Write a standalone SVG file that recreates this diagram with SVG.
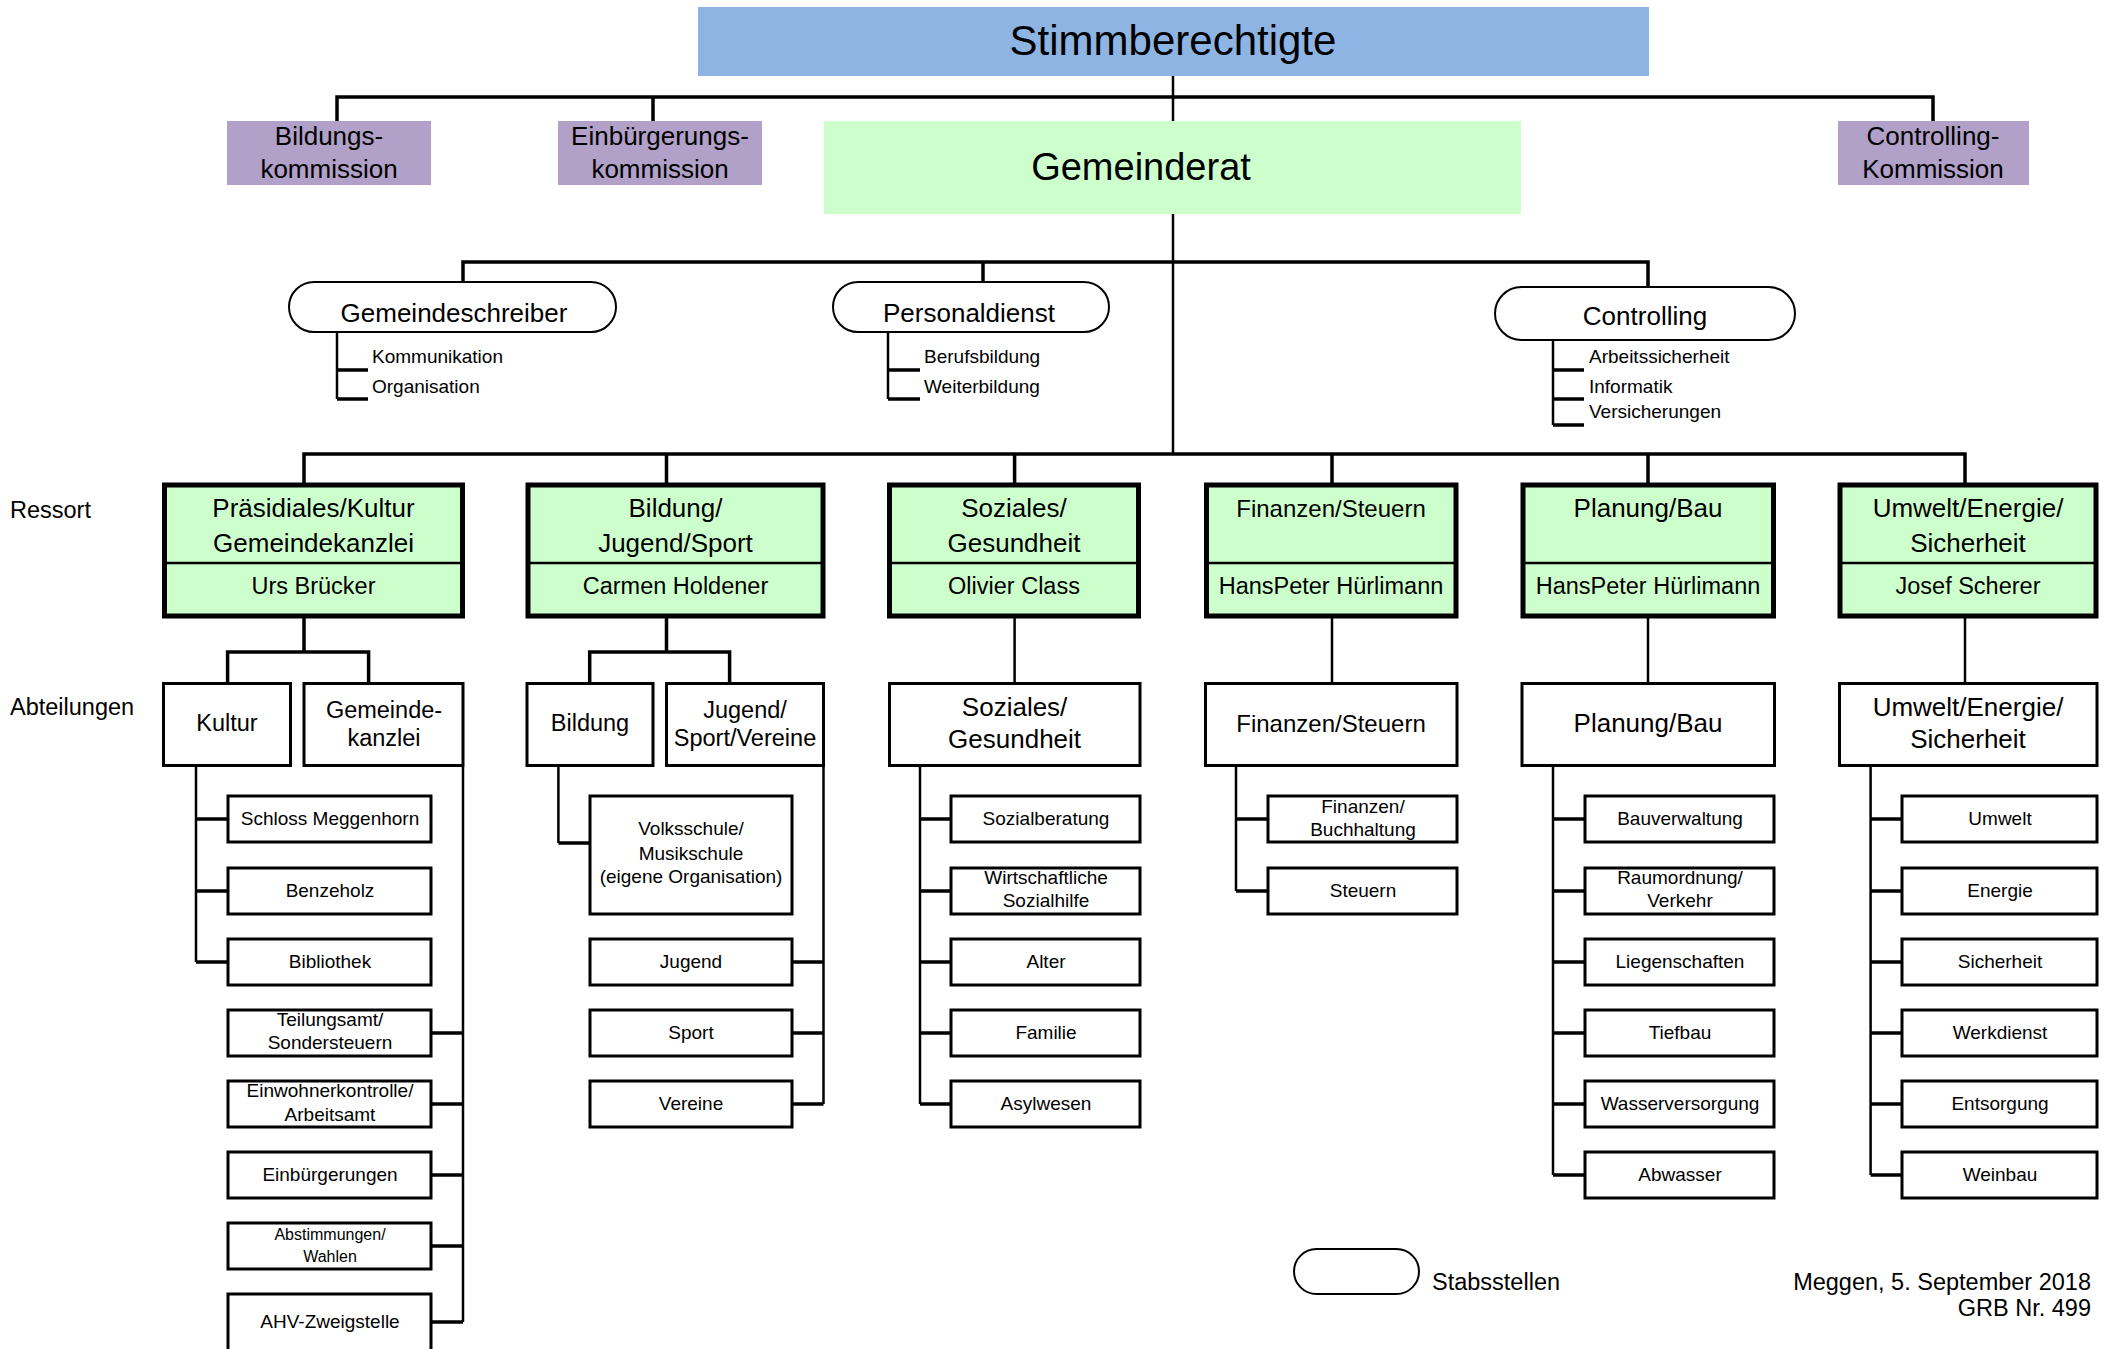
<svg xmlns="http://www.w3.org/2000/svg" width="2109" height="1349" viewBox="0 0 2109 1349">
<style>
text{font-family:"Liberation Sans",Arial,sans-serif;fill:#000}
.c{text-anchor:middle}
.r{text-anchor:end}
.f42{font-size:42px}.f38{font-size:38px}.f26{font-size:26px}.f24{font-size:24px}.f235{font-size:23.5px}.f19{font-size:19px}.f16{font-size:16px}
.bar{stroke:#000;stroke-width:3.5;fill:none}
.ln{stroke:#000;stroke-width:2.5;fill:none}
.tk{stroke:#000;stroke-width:3.5;fill:none}
.box{fill:#fff;stroke:#000;stroke-width:3}
.res{fill:#CCFFCC;stroke:#000;stroke-width:5}
.stad{fill:#fff;stroke:#000;stroke-width:2}
.kom{fill:#B1A0C7}
</style>
<rect width="2109" height="1349" fill="#fff"/>
<g id="connectors">
<path class="ln" d="M1173 76V121M1173 214V454"/>
<path class="bar" d="M337 121V97H1933V121M653 97V121"/>
<path class="bar" d="M463 282V262H1648V287M983 262V282"/>
<path class="bar" d="M304 483V454H1965V483M666.5 454V483M1014.6 454V483M1332 454V483M1648 454V483"/>
<path class="ln" d="M337 332V399M888 332V399M1553 340V425"/>
<path class="tk" d="M337 370H368M337 399H368M888 370H920M888 399H920M1553 370H1584M1553 399H1584M1553 425H1584"/>
<path class="bar" d="M304 618V652M227.6 683V652H368.6V683M666.5 618V652M589.7 683V652H729.6V683"/>
<path class="ln" d="M1014.6 618V683M1332 618V683M1648 618V683M1965 618V683"/>
<path class="ln" d="M196 767V962M463 767V1322M558.4 767V843M823.5 767V1104M920 767V1104M1236 767V891M1553 767V1175M1870.6 767V1175"/>
<path class="tk" d="M196 819H228M196 891H228M196 962H228M432 1033H463M432 1104H463M432 1175H463M432 1246H463M432 1322H463M558.4 843H590M793 962H823.5M793 1033H823.5M793 1104H823.5M920 819H951M920 891H951M920 962H951M920 1033H951M920 1104H951M1236 819H1268M1236 891H1268M1553 819H1585M1553 891H1585M1553 962H1585M1553 1033H1585M1553 1104H1585M1553 1175H1585M1870.6 819H1902M1870.6 891H1902M1870.6 962H1902M1870.6 1033H1902M1870.6 1104H1902M1870.6 1175H1902"/>
</g>
<g id="stimmberechtigte"><rect x="698" y="7" width="951" height="69" fill="#8EB4E3"/><text class="c f42" x="1173" y="55">Stimmberechtigte</text></g>
<g id="bildungskommission"><rect class="kom" x="227" y="121" width="204" height="64"/><text class="c f26" x="329" y="144.5">Bildungs-</text><text class="c f26" x="329" y="177.5">kommission</text></g>
<g id="einbuergerungskommission"><rect class="kom" x="558" y="121" width="204" height="64"/><text class="c f26" x="660" y="144.5">Einbürgerungs-</text><text class="c f26" x="660" y="177.5">kommission</text></g>
<g id="gemeinderat"><rect x="824" y="121" width="697" height="93" fill="#CCFFCC"/><text class="c f38" x="1141" y="179.5">Gemeinderat</text></g>
<g id="controllingkommission"><rect class="kom" x="1838" y="121" width="191" height="64"/><text class="c f26" x="1933" y="144.5">Controlling-</text><text class="c f26" x="1933" y="177.5">Kommission</text></g>
<g id="gemeindeschreiber"><rect class="stad" x="289" y="282" width="327" height="50" rx="25"/><text class="c f26" x="454" y="321.5">Gemeindeschreiber</text><text class="f19" x="372" y="362.5">Kommunikation</text><text class="f19" x="372" y="392.5">Organisation</text></g>
<g id="personaldienst"><rect class="stad" x="833" y="282" width="276" height="50" rx="25"/><text class="c f26" x="969" y="321.5">Personaldienst</text><text class="f19" x="924" y="362.5">Berufsbildung</text><text class="f19" x="924" y="392.5">Weiterbildung</text></g>
<g id="controlling"><rect class="stad" x="1495" y="287" width="300" height="53" rx="26.5"/><text class="c f26" x="1645" y="325">Controlling</text><text class="f19" x="1589" y="362.5">Arbeitssicherheit</text><text class="f19" x="1589" y="392.5">Informatik</text><text class="f19" x="1589" y="417.5">Versicherungen</text></g>
<g id="labels"><text class="f235" x="10" y="517.5">Ressort</text><text class="f235" x="10" y="714.5">Abteilungen</text></g>
<g id="ressort-praesidiales"><rect class="res" x="164.5" y="485" width="298" height="131"/><path class="ln" d="M164.5 563H462.5" stroke-width="3"/><text class="c f26" x="313.5" y="517">Präsidiales/Kultur</text><text class="c f26" x="313.5" y="552">Gemeindekanzlei</text><text class="c f235" x="313.5" y="594">Urs Brücker</text></g>
<g id="ressort-bildung"><rect class="res" x="528" y="485" width="295" height="131"/><path class="ln" d="M528 563H823" stroke-width="3"/><text class="c f26" x="675.5" y="517">Bildung/</text><text class="c f26" x="675.5" y="552">Jugend/Sport</text><text class="c f235" x="675.5" y="594">Carmen Holdener</text></g>
<g id="ressort-soziales"><rect class="res" x="889.5" y="485" width="249" height="131"/><path class="ln" d="M889.5 563H1138.5" stroke-width="3"/><text class="c f26" x="1014" y="517">Soziales/</text><text class="c f26" x="1014" y="552">Gesundheit</text><text class="c f235" x="1014" y="594">Olivier Class</text></g>
<g id="ressort-finanzen"><rect class="res" x="1206.5" y="485" width="249.5" height="131"/><path class="ln" d="M1206.5 563H1456" stroke-width="3"/><text class="c f24" x="1331" y="517">Finanzen/Steuern</text><text class="c f235" x="1331" y="594">HansPeter Hürlimann</text></g>
<g id="ressort-planung"><rect class="res" x="1523" y="485" width="250.5" height="131"/><path class="ln" d="M1523 563H1773.5" stroke-width="3"/><text class="c f26" x="1648" y="517">Planung/Bau</text><text class="c f235" x="1648" y="594">HansPeter Hürlimann</text></g>
<g id="ressort-umwelt"><rect class="res" x="1840" y="485" width="256" height="131"/><path class="ln" d="M1840 563H2096" stroke-width="3"/><text class="c f26" x="1968" y="517">Umwelt/Energie/</text><text class="c f26" x="1968" y="552">Sicherheit</text><text class="c f235" x="1968" y="594">Josef Scherer</text></g>
<g id="abt-kultur"><rect class="box" x="163.5" y="683.5" width="127" height="82"/><text class="c f235" x="227" y="731">Kultur</text></g>
<g id="abt-gemeindekanzlei"><rect class="box" x="304" y="683.5" width="159" height="82"/><text class="c f235" x="384" y="718">Gemeinde-</text><text class="c f235" x="384" y="746">kanzlei</text></g>
<g id="abt-bildung"><rect class="box" x="527" y="683.5" width="126" height="82"/><text class="c f235" x="590" y="731">Bildung</text></g>
<g id="abt-jugend"><rect class="box" x="666.5" y="683.5" width="157" height="82"/><text class="c f235" x="745" y="718">Jugend/</text><text class="c f235" x="745" y="746">Sport/Vereine</text></g>
<g id="abt-soziales"><rect class="box" x="889.5" y="683.5" width="250.5" height="82"/><text class="c f26" x="1014.6" y="715.5">Soziales/</text><text class="c f26" x="1014.6" y="747.5">Gesundheit</text></g>
<g id="abt-finanzen"><rect class="box" x="1205.5" y="683.5" width="251.5" height="82"/><text class="c f24" x="1331" y="732">Finanzen/Steuern</text></g>
<g id="abt-planung"><rect class="box" x="1522" y="683.5" width="252.5" height="82"/><text class="c f26" x="1648" y="732">Planung/Bau</text></g>
<g id="abt-umwelt"><rect class="box" x="1839.5" y="683.5" width="257.5" height="82"/><text class="c f26" x="1968" y="715.5">Umwelt/Energie/</text><text class="c f26" x="1968" y="747.5">Sicherheit</text></g>
<g id="schloss-meggenhorn"><rect class="box" x="228" y="796" width="203" height="46"/><text class="c f19" x="330" y="825">Schloss Meggenhorn</text></g>
<g id="benzeholz"><rect class="box" x="228" y="868" width="203" height="46"/><text class="c f19" x="330" y="897">Benzeholz</text></g>
<g id="bibliothek"><rect class="box" x="228" y="939" width="203" height="46"/><text class="c f19" x="330" y="968">Bibliothek</text></g>
<g id="teilungsamt"><rect class="box" x="228" y="1010" width="203" height="46"/><text class="c f19" x="330" y="1026">Teilungsamt/</text><text class="c f19" x="330" y="1049">Sondersteuern</text></g>
<g id="einwohnerkontrolle"><rect class="box" x="228" y="1081" width="203" height="46"/><text class="c f19" x="330" y="1097">Einwohnerkontrolle/</text><text class="c f19" x="330" y="1121">Arbeitsamt</text></g>
<g id="einbuergerungen"><rect class="box" x="228" y="1152" width="203" height="46"/><text class="c f19" x="330" y="1181">Einbürgerungen</text></g>
<g id="abstimmungen"><rect class="box" x="228" y="1223" width="203" height="46"/><text class="c f16" x="330" y="1240">Abstimmungen/</text><text class="c f16" x="330" y="1262">Wahlen</text></g>
<g id="ahv-zweigstelle"><rect class="box" x="228" y="1294" width="203" height="70"/><text class="c f19" x="330" y="1328">AHV-Zweigstelle</text></g>
<g id="volksschule"><rect class="box" x="590" y="796" width="202" height="118"/><text class="c f19" x="691" y="835">Volksschule/</text><text class="c f19" x="691" y="860">Musikschule</text><text class="c f19" x="691" y="883">(eigene Organisation)</text></g>
<g id="jugend"><rect class="box" x="590" y="939" width="202" height="46"/><text class="c f19" x="691" y="968">Jugend</text></g>
<g id="sport"><rect class="box" x="590" y="1010" width="202" height="46"/><text class="c f19" x="691" y="1039">Sport</text></g>
<g id="vereine"><rect class="box" x="590" y="1081" width="202" height="46"/><text class="c f19" x="691" y="1110">Vereine</text></g>
<g id="sozialberatung"><rect class="box" x="951" y="796" width="189" height="46"/><text class="c f19" x="1046" y="825">Sozialberatung</text></g>
<g id="sozialhilfe"><rect class="box" x="951" y="868" width="189" height="46"/><text class="c f19" x="1046" y="884">Wirtschaftliche</text><text class="c f19" x="1046" y="907">Sozialhilfe</text></g>
<g id="alter"><rect class="box" x="951" y="939" width="189" height="46"/><text class="c f19" x="1046" y="968">Alter</text></g>
<g id="familie"><rect class="box" x="951" y="1010" width="189" height="46"/><text class="c f19" x="1046" y="1039">Familie</text></g>
<g id="asylwesen"><rect class="box" x="951" y="1081" width="189" height="46"/><text class="c f19" x="1046" y="1110">Asylwesen</text></g>
<g id="buchhaltung"><rect class="box" x="1268" y="796" width="189" height="46"/><text class="c f19" x="1363" y="813">Finanzen/</text><text class="c f19" x="1363" y="836">Buchhaltung</text></g>
<g id="steuern"><rect class="box" x="1268" y="868" width="189" height="46"/><text class="c f19" x="1363" y="897">Steuern</text></g>
<g id="bauverwaltung"><rect class="box" x="1585" y="796" width="189" height="46"/><text class="c f19" x="1680" y="825">Bauverwaltung</text></g>
<g id="raumordnung"><rect class="box" x="1585" y="868" width="189" height="46"/><text class="c f19" x="1680" y="884">Raumordnung/</text><text class="c f19" x="1680" y="907">Verkehr</text></g>
<g id="liegenschaften"><rect class="box" x="1585" y="939" width="189" height="46"/><text class="c f19" x="1680" y="968">Liegenschaften</text></g>
<g id="tiefbau"><rect class="box" x="1585" y="1010" width="189" height="46"/><text class="c f19" x="1680" y="1039">Tiefbau</text></g>
<g id="wasserversorgung"><rect class="box" x="1585" y="1081" width="189" height="46"/><text class="c f19" x="1680" y="1110">Wasserversorgung</text></g>
<g id="abwasser"><rect class="box" x="1585" y="1152" width="189" height="46"/><text class="c f19" x="1680" y="1181">Abwasser</text></g>
<g id="umwelt"><rect class="box" x="1902" y="796" width="195" height="46"/><text class="c f19" x="2000" y="825">Umwelt</text></g>
<g id="energie"><rect class="box" x="1902" y="868" width="195" height="46"/><text class="c f19" x="2000" y="897">Energie</text></g>
<g id="sicherheit"><rect class="box" x="1902" y="939" width="195" height="46"/><text class="c f19" x="2000" y="968">Sicherheit</text></g>
<g id="werkdienst"><rect class="box" x="1902" y="1010" width="195" height="46"/><text class="c f19" x="2000" y="1039">Werkdienst</text></g>
<g id="entsorgung"><rect class="box" x="1902" y="1081" width="195" height="46"/><text class="c f19" x="2000" y="1110">Entsorgung</text></g>
<g id="weinbau"><rect class="box" x="1902" y="1152" width="195" height="46"/><text class="c f19" x="2000" y="1181">Weinbau</text></g>
<g id="legend"><rect class="stad" x="1294" y="1249" width="125" height="45" rx="22.5"/><text class="f235" x="1432" y="1290">Stabsstellen</text><text class="r f235" x="2091" y="1290">Meggen, 5. September 2018</text><text class="r f235" x="2091" y="1316">GRB Nr. 499</text></g>
</svg>
